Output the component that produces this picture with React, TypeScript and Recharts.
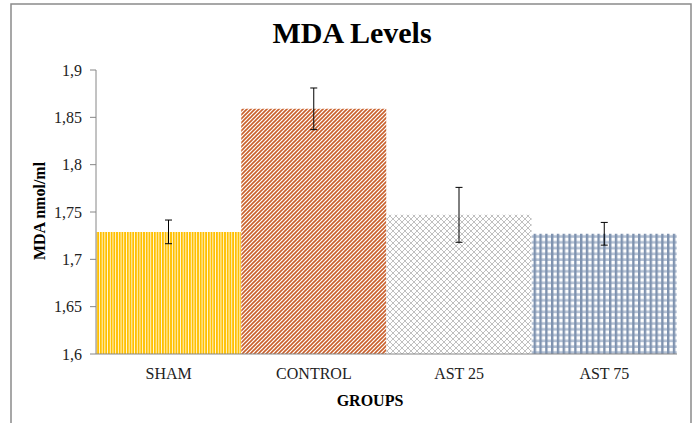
import React from 'react';
import { BarChart, Bar, XAxis, YAxis, ErrorBar, Cell } from 'recharts';

const groups = ['SHAM', 'CONTROL', 'AST 25', 'AST 75'];
const mdaValues = [1.729, 1.859, 1.747, 1.727];
const mdaErrors = [0.0125, 0.022, 0.029, 0.012];
const yTicks = [1.6, 1.65, 1.7, 1.75, 1.8, 1.85, 1.9];
const patternIds = ['pSham', 'pControl', 'pAst25', 'pAst75'];

const data = groups.map((g, i) => ({ name: g, value: mdaValues[i], err: mdaErrors[i] }));

const serif = '"Liberation Serif", "Times New Roman", serif';
const axisGray = '#868686';

export default function App() {
  return (
    <div style={{ position: 'absolute', left: 0, top: 0, width: 696, height: 423, background: '#fff', overflow: 'hidden' }}>
      <BarChart
        width={696}
        height={423}
        data={data}
        margin={{ top: 70, right: 19, bottom: 39, left: 36 }}
        barCategoryGap={0}
      >
        <defs>
          <pattern id="pSham" patternUnits="userSpaceOnUse" width={2.7} height={10}>
            <rect x={0} y={0} width={2.7} height={10} fill="#ffffff" />
            <rect x={0} y={0} width={1.9} height={10} fill="#FFC000" />
          </pattern>
          <pattern id="pControl" patternUnits="userSpaceOnUse" width={4} height={4}>
            <rect x={0} y={0} width={4} height={4} fill="#ffffff" />
            <path d="M-1,5 L5,-1 M-3,3 L3,-3 M1,7 L7,1" stroke="#C9602C" strokeWidth={1.6} />
          </pattern>
          <pattern id="pAst25" patternUnits="userSpaceOnUse" width={6} height={6}>
            <rect x={0} y={0} width={6} height={6} fill="#ffffff" />
            <path d="M0,0 L6,6 M6,0 L0,6" stroke="#B0B0B0" strokeWidth={0.8} />
          </pattern>
          <pattern id="pAst75" patternUnits="userSpaceOnUse" width={5.8} height={5.8}>
            <rect x={0} y={0} width={5.8} height={5.8} fill="#ffffff" />
            <rect x={0} y={3.2} width={5.8} height={2.6} fill="#B3C0D3" />
            <rect x={0} y={0} width={2.4} height={5.8} fill="#7E92AF" />
          </pattern>
        </defs>
        <XAxis
          dataKey="name"
          tickLine={false}
          tickSize={0}
          tickMargin={14}
          height={30}
          axisLine={{ stroke: axisGray }}
          tick={{ fill: '#222', fontSize: 16, fontFamily: serif }}
        />
        <YAxis
          domain={[1.6, 1.9]}
          ticks={yTicks}
          width={60}
          tickSize={6}
          tickMargin={8}
          axisLine={{ stroke: axisGray }}
          tickLine={{ stroke: axisGray }}
          tick={{ fill: '#222', fontSize: 16, fontFamily: serif }}
          tickFormatter={(v: number) => String(v).replace('.', ',')}
          interval={0}
        />
        <Bar dataKey="value" isAnimationActive={false}>
          {data.map((d, i) => (
            <Cell key={d.name} fill={`url(#${patternIds[i]})`} />
          ))}
          <ErrorBar dataKey="err" width={3.5} stroke="#000" strokeWidth={1} isAnimationActive={false} />
        </Bar>
      </BarChart>
      <svg width={696} height={423} style={{ position: 'absolute', left: 0, top: 0, pointerEvents: 'none' }}>
        <rect x={11} y={4} width={680} height={440} fill="none" stroke="#8a8a8a" strokeWidth={1.5} />
        <text x={352} y={43} textAnchor="middle" fontFamily={serif} fontWeight="bold" fontSize={30} fill="#000">
          MDA Levels
        </text>
        <text x={370} y={406} textAnchor="middle" fontFamily={serif} fontWeight="bold" fontSize={16} fill="#000">
          GROUPS
        </text>
        <text transform="translate(45,211) rotate(-90)" textAnchor="middle" fontFamily={serif} fontWeight="bold" fontSize={16} fill="#000">
          MDA nmol/ml
        </text>
      </svg>
    </div>
  );
}
